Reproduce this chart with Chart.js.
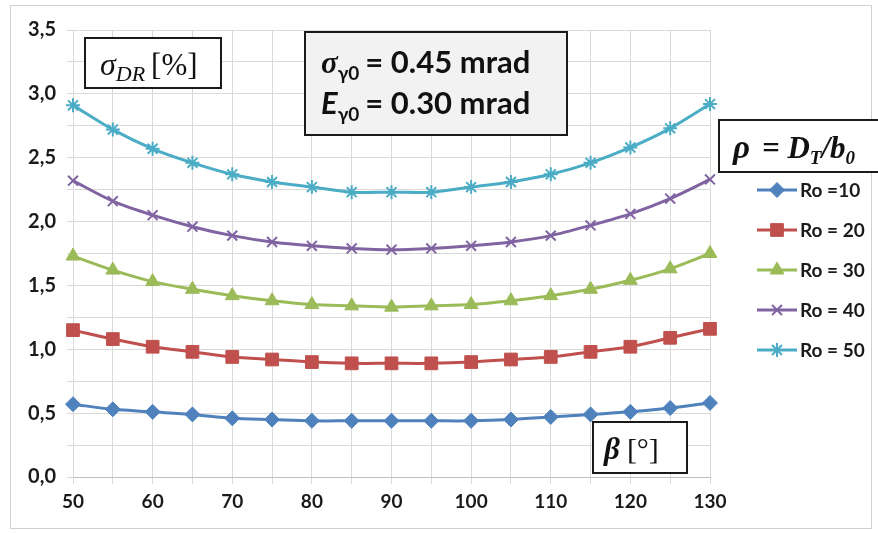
<!DOCTYPE html>
<html><head><meta charset="utf-8">
<script src="https://cdn.jsdelivr.net/npm/chart.js@4.4.1/dist/chart.umd.min.js"></script>
<style>html,body{margin:0;padding:0;background:#fff}#wrap{width:878px;height:533px;position:relative}</style>
</head><body><div id="wrap"><canvas id="c" width="878" height="533"></canvas></div>
<script>
const betaValues = [50,55,60,65,70,75,80,85,90,95,100,105,110,115,120,125,130];
const xTickLabels = [50,60,70,80,90,100,110,120,130];
const seriesNames = ['Ro =10','Ro = 20','Ro = 30','Ro = 40','Ro = 50'];
const ro10 = [0.57,0.53,0.51,0.49,0.46,0.45,0.44,0.44,0.44,0.44,0.44,0.45,0.47,0.49,0.51,0.54,0.58];
const ro20 = [1.15,1.08,1.02,0.98,0.94,0.92,0.90,0.89,0.89,0.89,0.90,0.92,0.94,0.98,1.02,1.09,1.16];
const ro30 = [1.73,1.62,1.53,1.47,1.42,1.38,1.35,1.34,1.33,1.34,1.35,1.38,1.42,1.47,1.54,1.63,1.75];
const ro40 = [2.32,2.16,2.05,1.96,1.89,1.84,1.81,1.79,1.78,1.79,1.81,1.84,1.89,1.97,2.06,2.18,2.33];
const ro50 = [2.91,2.72,2.57,2.46,2.37,2.31,2.27,2.23,2.23,2.23,2.27,2.31,2.37,2.46,2.58,2.73,2.92];
const colors = ['#4f81bd','#c0504d','#9bbb59','#8064a2','#4bacc6'];
const pointStyles = ['rectRot','rect','triangle','crossRot','star'];
const pointRadii = [7.5,9,8,7,7];
const allSeries = [ro10,ro20,ro30,ro40,ro50];

const datasets = allSeries.map((s,i)=>({
  label: seriesNames[i],
  data: s.map((v,j)=>({x:betaValues[j], y:v})),
  borderColor: colors[i], backgroundColor: colors[i],
  borderWidth: 3, pointStyle: pointStyles[i], pointRadius: pointRadii[i],
  pointBorderWidth: (i>=3)?2:1, tension: 0.3, fill:false, clip:false
}));

function box(ctx,x,y,w,h,fill){
  ctx.save(); ctx.fillStyle=fill; ctx.fillRect(x,y,w,h);
  ctx.strokeStyle='#1a1a1a'; ctx.lineWidth=2; ctx.strokeRect(x,y,w,h); ctx.restore();
}
function runs(ctx,x,y,parts){
  let cx=x;
  for(const p of parts){ ctx.font=p.f; ctx.fillText(p.t,cx,y+(p.dy||0)); cx+=ctx.measureText(p.t).width+(p.sp||0); }
}
const overlay = {
  id:'overlay',
  beforeDraw(chart){
    const ctx=chart.ctx; ctx.save();
    ctx.strokeStyle='#d0d0d0'; ctx.lineWidth=1; ctx.strokeRect(10.5,5.5,861,523); ctx.restore();
  },
  afterDraw(chart){
    const ctx=chart.ctx; ctx.save(); ctx.fillStyle='#111'; ctx.textBaseline='alphabetic';
    // sigma_DR box
    box(ctx,85,38,136,50,'#ffffff');
    runs(ctx,100,75,[{t:'σ',f:'italic 32px "Liberation Serif"'},{t:'DR',f:'italic 22px "Liberation Serif"',dy:6,sp:6},{t:'[%]',f:'31px "Liberation Serif"'}]);
    // parameters box
    box(ctx,305,32,262,103,'#f2f2f2');
    runs(ctx,321,73,[{t:'σ',f:'italic bold 31px "Liberation Serif"'},{t:'γ0',f:'bold 19px Lato',dy:7,sp:6},{t:'= 0.45 mrad',f:'bold 31px Lato'}]);
    runs(ctx,321,114,[{t:'E',f:'italic bold 31px Lato'},{t:'γ0',f:'bold 19px Lato',dy:7,sp:6},{t:'= 0.30 mrad',f:'bold 31px Lato'}]);
    // rho box
    box(ctx,719,120,170,52,'#ffffff');
    runs(ctx,733,158,[{t:'ρ',f:'italic bold 33px "Liberation Serif"',sp:12},{t:'= D',f:'italic bold 31px "Liberation Serif"'},{t:'T',f:'italic bold 19px "Liberation Serif"',dy:6},{t:'/b',f:'italic bold 31px "Liberation Serif"'},{t:'0',f:'italic bold 19px "Liberation Serif"',dy:6}]);
    // beta box
    box(ctx,593,422,94,51,'#ffffff');
    runs(ctx,604,459,[{t:'β',f:'italic bold 31px "Liberation Serif"',sp:7},{t:'[°]',f:'30px "Liberation Serif"'}]);
    // legend
    chart.data.datasets.forEach((ds,i)=>{
      const y=190+i*40;
      ctx.strokeStyle=ds.borderColor; ctx.lineWidth=3;
      ctx.beginPath(); ctx.moveTo(757,y); ctx.lineTo(797,y); ctx.stroke();
      ctx.fillStyle=ds.backgroundColor; ctx.lineWidth=ds.pointBorderWidth;
      Chart.helpers.drawPoint(ctx,{pointStyle:ds.pointStyle,radius:ds.pointRadius,rotation:0,borderWidth:ds.pointBorderWidth},777,y);
      ctx.fillStyle='#1a1a1a'; ctx.font='bold 19px Lato'; ctx.textBaseline='middle';
      ctx.fillText(ds.label,800,y+1); ctx.textBaseline='alphabetic';
    });
    ctx.restore();
  }
};

new Chart(document.getElementById('c'),{
  type:'line',
  data:{datasets},
  options:{
    responsive:false, animation:false, devicePixelRatio:1,
    layout:{padding:{left:10,right:168,top:30,bottom:10}},
    plugins:{legend:{display:false},tooltip:{enabled:false}},
    scales:{
      x:{type:'linear',min:50,max:130,
        afterFit(s){s.height=46;},
        border:{color:'#bfbfbf',width:1},
        grid:{color:'#d9d9d9',lineWidth:1,tickLength:7,drawTicks:true},
        ticks:{stepSize:5,autoSkip:false,maxRotation:0,padding:6,color:'#1a1a1a',font:{family:'Lato',size:19,weight:'bold'},
          callback:(v)=> xTickLabels.includes(v)? String(v):''}
      },
      y:{min:0,max:3.5,
        afterFit(s){s.width=63;},
        border:{color:'#d9d9d9',width:1},
        grid:{color:'#d9d9d9',lineWidth:1,tickLength:6},
        ticks:{stepSize:0.25,padding:11,color:'#1a1a1a',font:{family:'Lato',size:20,weight:'bold'},
          callback:(v)=> (Math.abs(v*2-Math.round(v*2))<1e-9)? v.toFixed(1).replace('.',','):''}
      }
    }
  },
  plugins:[overlay]
});
</script></body></html>
